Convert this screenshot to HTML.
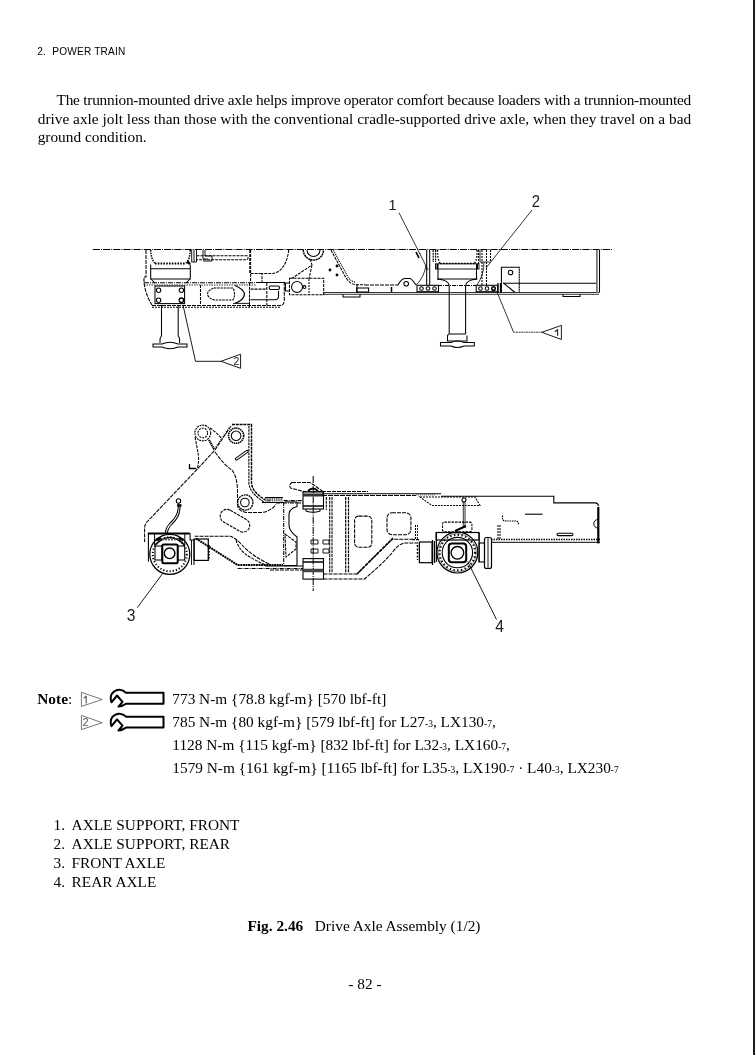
<!DOCTYPE html>
<html><head><meta charset="utf-8">
<style>
html,body{margin:0;padding:0;background:#fff;width:755px;height:1055px;overflow:hidden}
svg{position:absolute;left:0;top:0;will-change:transform}
.s{font-family:"Liberation Serif",serif;font-size:15.33px;fill:#000}
.h{font-family:"Liberation Sans",sans-serif;font-size:10.1px;fill:#000;letter-spacing:0.2px}
.sub{font-size:9.5px}
</style></head><body>
<svg width="755" height="1055" viewBox="0 0 755 1055">
<rect x="753" y="0" width="2" height="1055" fill="#1c1c1c"/>
<text class="h" x="37.3" y="54.8">2.</text><text class="h" x="52.3" y="54.8">POWER TRAIN</text>
<text class="s" x="56.5" y="105" textLength="634.7" lengthAdjust="spacing">The trunnion-mounted drive axle helps improve operator comfort because loaders with a trunnion-mounted</text>
<text class="s" x="37.7" y="123.8" textLength="653.5" lengthAdjust="spacing">drive axle jolt less than those with the conventional cradle-supported drive axle, when they travel on a bad</text>
<text class="s" x="37.7" y="142.3">ground condition.</text>

<text class="s" x="37.3" y="703.7"><tspan font-weight="bold">Note</tspan>:</text>

<g fill="none">
<path d="M81.4 692.3V706.4L102.3 699.5Z" stroke="#666" stroke-width="0.9"/>
<path d="M81.4 715.5V729.6L102.3 722.7Z" stroke="#666" stroke-width="0.9"/>
<path id="wr" d="M126 692.8H163.5V703.7H126Q122.5 706.2 118.5 706.6L122.5 701.8L117 695.5L111.5 702.3Q109.6 697 112.2 693.3Q115.5 689.6 119.5 689.8Q123.5 690 126 692.8Z" stroke="#000" stroke-width="2" stroke-linejoin="round"/>
<use href="#wr" y="23.9"/>
</g>
<g font-family="Liberation Sans, sans-serif" fill="#555">
</g><path d="M86.2 695.8V703.4M86.2 695.8Q85.5 697.6 83.8 698.2" fill="none" stroke="#555" stroke-width="1.1"/><g font-family="Liberation Sans, sans-serif" fill="#555">
<text x="82.6" y="726" font-size="11">2</text>
</g>
<text class="s" x="172.3" y="703.7">773 N-m {78.8 kgf-m} [570 lbf-ft]</text>
<text class="s" x="172.3" y="726.8">785 N-m {80 kgf-m} [579 lbf-ft] for L27<tspan class="sub">-3</tspan>, LX130<tspan class="sub">-7</tspan>,</text>
<text class="s" x="172.3" y="749.8">1128 N-m {115 kgf-m} [832 lbf-ft] for L32<tspan class="sub">-3</tspan>, LX160<tspan class="sub">-7</tspan>,</text>
<text class="s" x="172.3" y="772.8">1579 N-m {161 kgf-m} [1165 lbf-ft] for L35<tspan class="sub">-3</tspan>, LX190<tspan class="sub">-7</tspan> · L40<tspan class="sub">-3</tspan>, LX230<tspan class="sub">-7</tspan></text>

<text class="s" x="53.5" y="830.1">1.</text><text class="s" x="71.6" y="830.1">AXLE SUPPORT, FRONT</text>
<text class="s" x="53.5" y="849">2.</text><text class="s" x="71.6" y="849">AXLE SUPPORT, REAR</text>
<text class="s" x="53.5" y="868">3.</text><text class="s" x="71.6" y="868">FRONT AXLE</text>
<text class="s" x="53.5" y="886.9">4.</text><text class="s" x="71.6" y="886.9">REAR AXLE</text>

<text class="s" x="247.5" y="930.5"><tspan font-weight="bold">Fig. 2.46</tspan></text>
<text class="s" x="314.8" y="930.5">Drive Axle Assembly (1/2)</text>
<text class="s" x="348.3" y="989.1">- 82 -</text>

<g id="d1" fill="none" stroke="#000" stroke-width="1.05">
<!-- centerline -->
<path d="M92.8 249.5H612" stroke-dasharray="7 1.1 1 1.1" stroke-width="1.1"/>
<!-- front mount outer frame -->
<path d="M146 250V277H144V283Q146 296 152 305" stroke-dasharray="4 1"/>
<path d="M144 282.7H256" stroke-dasharray="5 1 1 1"/>
<path d="M152 305.5H280Q284.3 305.5 284.3 300V283" stroke-dasharray="4 1"/>
<path d="M152 307.3H281" stroke-dasharray="2 1"/>
<!-- mount box -->
<path d="M150.7 264.5V279H190.3V264.5"/>
<path d="M150.7 268.8H190.3"/>
<path d="M150.7 250Q151 259 155 263.5" stroke-width="1.5" stroke-dasharray="1.5 1"/>
<path d="M190.3 250Q190 259 186 263.5" stroke-width="1.5" stroke-dasharray="1.5 1"/><path d="M187 261.5L190 264" stroke-width="2.5"/>
<path d="M155 263.5H186" stroke-width="1.8" stroke-dasharray="1.6 1.2"/>
<path d="M151 279L155 283M190 279L186 283"/>
<!-- bolt plate -->
<rect x="155" y="286" width="29.6" height="17.6"/>
<circle cx="158.6" cy="290.2" r="2.2"/><circle cx="181.4" cy="290.2" r="2.2"/>
<circle cx="158.6" cy="300.2" r="2.2"/><circle cx="181.4" cy="300.2" r="2.2" stroke-width="1.3"/>
<!-- leg -->
<path d="M161.5 305V336Q160 337.5 160 339.5V343M178.2 305V336Q179.6 337.5 179.6 339.5V343"/>
<path d="M153 344H162Q170 340.5 178 344H187V347H178Q170 350.5 162 347H153Z"/>
<!-- leader 2 -->
<path d="M183 305L195.5 361.3H221M221 361.3L240.6 354.2V368.3Z" stroke-width="0.9"/>
<!-- slot in lower frame -->
<path d="M200.5 285V305" stroke-dasharray="3 1"/>
<path d="M144 285H256" stroke-dasharray="1.5 1" stroke-width="0.8"/>
<path d="M214 288H233Q236 294 233 300H214Q208 298 207.5 294Q208 290 214 288Z" stroke-dasharray="2.5 0.8"/>
<path d="M235 285.5Q243.5 289 244.5 294Q244 300 235 303.4" stroke-width="1.3"/>
<path d="M233 303.4H249" stroke-width="0.9"/>
<path d="M249.5 283V307" stroke-dasharray="3 0.8"/><path d="M266.8 283V305.5" stroke-dasharray="3 1"/>
<!-- small bracket right of mount -->
<path d="M191.7 250V262H196.5V250M194 250V262" stroke-width="0.9"/>
<path d="M196.5 255.7H247Q249.3 257.7 247 259.7H196.5" stroke-dasharray="3 1"/>
<path d="M203 250V259H208M205 250V256H212V261H203" stroke-width="0.9"/>
<path d="M249.8 250V273" stroke-dasharray="3 1"/>
<!-- middle lower box -->
<path d="M250.6 250V283" stroke-dasharray="3 1"/>
<path d="M288.7 250C287.5 262 282 273 272 273.5H262V282.7M250.6 273.5H262" stroke-dasharray="3 1"/>
<path d="M256 282.5H285"/>
<path d="M250.6 289.1H267" stroke-dasharray="3 1"/><path d="M250.6 299.8H275Q278.5 299.8 278.5 296V291"/>
<rect x="269.2" y="286" width="10.3" height="3.5" rx="1.5" stroke-width="1.1"/>
<path d="M289.5 283H285.5V291H289.5"/>
<!-- pivot circle & box -->
<path d="M303.3 250A10.1 10.1 0 0 0 323.5 250" stroke-dasharray="2 0.6" stroke-width="1.5"/>
<path d="M307 250A6.5 6.5 0 0 0 320 250"/>
<path d="M310 259L312 265L291 279M312 265L309 279" stroke-dasharray="3 1"/>
<rect x="289.5" y="278.2" width="34.2" height="16.6" stroke-dasharray="3 1"/>
<circle cx="297" cy="287" r="5.5"/><circle cx="304.5" cy="287" r="1.4"/>
<path d="M309 279V294.8" stroke-dasharray="2 1"/>
<!-- right diagonal -->
<path d="M331 250L345.5 277Q349.5 284.5 357 284.8H365" stroke-dasharray="3 1"/>
<path d="M333.5 250.5L348 277Q351 281.8 356 282.3" stroke-dasharray="1 1"/>
<circle cx="330" cy="270" r="0.9" fill="#222"/><circle cx="337" cy="266" r="0.9" fill="#222"/><circle cx="337" cy="275" r="0.9" fill="#222"/>
<path d="M357 284V293"/>
<!-- bottom frame -->
<path d="M323 292.5H599M323 294.3H599" stroke-width="0.8"/>
<path d="M343 294.3V297H360V294.3"/>
<!-- front edge region -->
<path d="M365 285H398" stroke-dasharray="4 1"/>
<rect x="356.6" y="288" width="12" height="4"/>
<path d="M391.5 287V292" stroke-width="1.5"/>
<path d="M398 285Q401 279 405 278.5H410Q412 279 416 285"/>
<circle cx="406.2" cy="283.7" r="2.3"/>
<!-- bolt block left -->
<rect x="417" y="285.3" width="21.5" height="6.4"/>
<circle cx="421.5" cy="288.5" r="1.8"/><circle cx="428" cy="288.5" r="1.8"/><circle cx="434.5" cy="288.5" r="1.8"/>
<!-- column left -->
<path d="M426.7 250V285.5M429.7 250V285.5"/><path d="M433.2 250V262M435.6 250V262" stroke-width="1.2" stroke-dasharray="2 0.8"/>
<path d="M419.5 253Q424 262 428 270" stroke-width="0.8"/>
<path d="M426 265Q424 278 416 285" stroke-width="0.8"/>
<path d="M416 252L419 258" stroke-width="1.6"/>
<!-- leader 1 -->
<path d="M399 212.8L420 254" stroke-width="0.8"/>
<!-- rear mount box -->
<path d="M438 269V279H476.5V269"/><rect x="435.5" y="263.8" width="43.5" height="5.2" stroke-width="0.9"/>
<path d="M437.5 264V269M477 264V269" stroke-width="2"/><path d="M438 285.5H476" stroke-dasharray="4 1 1 1"/>
<path d="M437.5 250Q437.5 259 440 263.5M477 250Q477.5 259 474.5 263.5" stroke-width="1.4" stroke-dasharray="1.5 1.5"/>
<path d="M440 263.5H474.5" stroke-width="1.6" stroke-dasharray="1.6 1.4"/>
<path d="M437 279Q449.2 280 449.2 286V334M477.5 279Q465.6 280 465.6 286V334"/>
<!-- rear leg foot -->
<path d="M449.2 334H465.6M447.5 335.5Q447.5 334.5 449 334.5M447.5 335.5V341H467V335.5"/>
<path d="M440.5 342.5H451Q457.5 339.5 464 342.5H474.3V346H464Q457.5 349 451 346H440.5Z"/>
<!-- right column -->
<path d="M478.6 250V264M482 250V285M486.5 250V285M490.5 250V262" stroke-dasharray="2 1"/>
<path d="M480 250V262H490.5" stroke-width="0.8"/>
<path d="M484 262Q484 275 477 285" stroke-width="0.8"/>
<!-- bolt block right -->
<rect x="476.2" y="285.3" width="21.5" height="6.4"/>
<circle cx="480.5" cy="288.5" r="1.8"/><circle cx="487" cy="288.5" r="1.8"/><circle cx="493.5" cy="288.5" r="1.8" stroke-width="1.5"/>
<path d="M498 283V292.5M500.5 283V292.5" stroke-width="1.3"/>
<!-- leader 2 top -->
<path d="M532 210L486 268" stroke-width="0.8"/>
<!-- bracket plate -->
<path d="M501.4 292.5V267.3H519.3V292.5" />
<path d="M519.3 268V292" stroke="#fff" stroke-width="0.6" stroke-dasharray="1 1.5"/>
<circle cx="510.5" cy="272.5" r="2.3"/>
<path d="M503.5 283L515 292.5"/>
<path d="M503 283.2H596.7"/>
<path d="M596.7 250V292.5M599.5 250V292.5" />
<path d="M597 293V250" stroke="#888" stroke-width="1.6"/>
<path d="M563 294.3V296.5H580V294.3"/>
<!-- leader 1 bottom -->
<path d="M497 292L513.5 332" stroke-width="0.8"/>
<path d="M513.5 332.2H542" stroke-width="0.75" stroke-dasharray="2 0.5"/>
<path d="M541.8 332.3L561.4 325.4V339.5Z" stroke-width="0.9"/>
</g>

<g id="d2" fill="none" stroke="#000" stroke-width="1.05">
<!-- bell crank top-left circle -->
<circle cx="202.8" cy="433" r="7.9" stroke-dasharray="2 0.8" stroke-width="1.1"/>
<circle cx="202.8" cy="433" r="4.8" stroke-dasharray="2 1"/>
<!-- top-right circle -->
<circle cx="236.1" cy="435.7" r="7.6" stroke-width="1.6" stroke-dasharray="1.5 0.6"/>
<circle cx="236.1" cy="435.7" r="4.8"/>
<!-- right dashed edge of front frame -->
<path d="M232 424.5H251.5V483Q252 492 266 500.5H270" stroke-width="1.4" stroke-dasharray="3 0.8"/>
<path d="M248.9 426V483Q249.5 493 264 502" stroke-width="1.1" stroke-dasharray="2.5 0.8"/>
<!-- bell crank outline -->
<path d="M195 437Q197 447 198.5 456Q199 465 196.5 470" stroke-dasharray="3 1"/>
<path d="M210 428Q216 432 221 437.8" stroke-dasharray="3 1"/>
<path d="M209 440L214 449" stroke-width="2.2" stroke-dasharray="1.2 0.6"/>
<path d="M231 426L215 450L196.5 470L146.5 522.5Q144.6 525 144.6 528V542" stroke-dasharray="4 1"/>
<path d="M229 428L213 451" stroke-dasharray="1 1"/>
<path d="M215 452Q224 465 232 470Q238 478 237.5 495V505Q238 511 246 512.5H262Q271 511 276 504.4" stroke-dasharray="4 1"/>
<path d="M236.5 459L247 451.5" stroke-width="3.2" stroke-linecap="round"/>
<path d="M236.5 459L247 451.5" stroke="#fff" stroke-width="1.2" stroke-linecap="round"/>
<path d="M189.5 464V468.5H196" stroke-width="1.3"/>
<!-- bottom pivot circle -->
<circle cx="245.3" cy="502.5" r="7.6" stroke-width="1.3" stroke-dasharray="2 0.6"/>
<circle cx="244.9" cy="502.5" r="4.3"/>
<!-- bracket at hinge -->
<path d="M265 499.5H283" stroke="#777" stroke-width="4" stroke-dasharray="1.5 0.7"/><path d="M262 502.5H284M265 497.5H283" stroke-width="1"/>
<!-- oval -->
<rect x="219" y="514" width="32" height="13.5" rx="6.7" transform="rotate(30 235 520.7)" stroke-dasharray="3 1"/>
<!-- hose -->
<circle cx="178.5" cy="501" r="2.2"/><path d="M177 505.5H181.5" stroke-width="2.2"/>
<path d="M178.3 503.5V507Q178 516 170 523Q165.5 528 165.5 533M180 504V507Q180 517 172 524Q167.5 529 167.5 533"/>
<!-- front axle housing 3 -->
<path d="M147.9 533.4H189.7" stroke-width="2"/>
<path d="M148.4 533V561.7M190.1 533V540H194V565"/>
<circle cx="169.8" cy="554.3" r="20" stroke-width="1.3"/>
<circle cx="169.8" cy="554.3" r="17" stroke-width="2" stroke-dasharray="1.2 2"/>
<path d="M155 545Q169.8 530 184.5 545" stroke-width="1.5"/>
<rect x="162.3" y="544.4" width="15.4" height="18.8" rx="1.5" stroke-width="2"/>
<circle cx="169.6" cy="553.3" r="5.3" stroke-width="1.4"/>
<rect x="155" y="546" width="7" height="14"/>
<rect x="177.7" y="546" width="7" height="14"/>
<path d="M154.6 533V545M184.8 533V545" stroke-width="1"/><path d="M156 540L161 538M178.5 538L183.5 540" stroke-width="2.5"/><path d="M162 539.5H177.5" stroke="#666" stroke-width="2" stroke-dasharray="2 1"/>
<rect x="194.1" y="539" width="14.2" height="21.4" stroke-width="1.2"/><path d="M191.5 540V565" stroke-width="0.9"/>
<path d="M208.8 545V560" stroke-width="2" stroke-dasharray="1.5 1.5"/>
<!-- leader 3 -->
<path d="M163 573L137.3 607.6" stroke-width="0.9"/>
<!-- lower arm -->
<path d="M194.6 536.2H230.3Q236 538 242 545Q252 556 270 564.5" stroke-dasharray="4 1"/>
<path d="M236 540Q240 552 250 557Q258 562 266 565" stroke-dasharray="3 1"/>
<path d="M196 538.5L237.6 565H283" stroke-width="2" stroke-dasharray="2 0.6"/>
<path d="M237.6 568.5H303" stroke-width="1" stroke-dasharray="4 1 1 1"/>
<path d="M265 566H303" stroke-width="1.2"/>
<path d="M270 570H303" stroke-dasharray="4 1"/>
<!-- front frame end / bracket -->
<path d="M283.7 500.6H303M276 503H303" stroke-dasharray="4 1 1 1"/>
<path d="M283.7 502V565.5" stroke-dasharray="4 1 1 1"/>
<path d="M285 502H297V506.5Q290 508 289 514V525Q289 531 297 537V565.5H284" stroke-width="1.1"/>
<path d="M285 534L296 542V549L286 557Z" stroke-dasharray="3 1"/>
<!-- hinge centerline -->
<path d="M313.2 476V591" stroke-dasharray="7 1.1 1 1.1"/>
<!-- flag -->
<path d="M292 482.5H310L323 491.5H304L290.5 488Q288.5 485 292 482.5Z" stroke-dasharray="4 1"/>
<!-- upper hinge -->
<rect x="303" y="492" width="20.5" height="17" stroke-width="1.1"/>
<path d="M303 495H323.5" stroke-width="3" stroke="#333"/>
<path d="M303 506H323.5" stroke-width="1.5"/>
<path d="M306 509V511Q313 513.5 320 511V509"/>
<path d="M308 491Q313 486 318 491" stroke-width="2"/>
<!-- lower hinge -->
<rect x="303" y="558.6" width="20.5" height="20.5" stroke-width="1.1"/>
<path d="M303 562H323.5" stroke-width="1.5"/>
<path d="M303 570.5H323.5" stroke-width="3.5" stroke="#444"/>
<!-- small blocks -->
<path d="M311 540H318V544H311ZM311 549H318V553H311ZM323 540H329V544H323ZM323 549H329V553H323Z" stroke-width="0.9"/>
<!-- rear frame -->
<path d="M322 493.8H441" stroke-width="1.1"/>
<path d="M322 491.5H368" stroke-width="1" stroke-dasharray="4 1"/>
<path d="M322 495.5H416" stroke-width="1.1" stroke-dasharray="5 1"/><path d="M416 494.8H436" stroke="#777" stroke-width="1.6" stroke-dasharray="1.2 0.8"/>
<path d="M326.3 497V510M329.7 497V573M332 497V573" stroke-dasharray="3 0.8"/>
<path d="M345.7 497V573M348.5 497V573" stroke-width="1.2" stroke-dasharray="3 0.8"/>
<path d="M323.5 574H357L392.3 539.3H415" stroke-dasharray="4 1"/>
<path d="M393 538L357 574" stroke-width="1.6" stroke-dasharray="3 1"/>
<path d="M323.5 579H364.5Q380 566 392 553Q398 544 405 543H419" stroke-dasharray="4 1"/>
<rect x="354.6" y="516.1" width="17.2" height="31.2" rx="4" stroke-dasharray="4 1"/>
<rect x="387" y="512.8" width="23.9" height="21.9" rx="5" stroke-dasharray="4 1"/>
<path d="M415.5 525V540" stroke-dasharray="2 1"/>
<path d="M415.5 525V540M417.5 525V540" stroke-width="0.8" stroke-dasharray="2 1"/>
<!-- parallelogram -->
<path d="M420 497H475L480 505.5H432Z" stroke-dasharray="2 1"/>
<!-- rear axle 4 -->
<rect x="436.1" y="532.5" width="42.9" height="7.5" stroke-width="1.2"/>
<rect x="442.5" y="522.1" width="29.4" height="9.6" rx="2" stroke-dasharray="2.5 1"/>
<circle cx="464" cy="500" r="2"/>
<path d="M463.3 502V528M465 502V528" stroke-width="0.8"/>
<path d="M455 531L466 526" stroke-width="2"/>
<circle cx="457.4" cy="552.6" r="20.4" stroke-width="1.2"/>
<circle cx="457.4" cy="552.6" r="17.8" stroke-width="2.2" stroke-dasharray="1.4 2.4"/><circle cx="457.4" cy="552.6" r="18.9" stroke-width="0.6" stroke="#444"/>
<circle cx="457.4" cy="552.6" r="15.2" stroke-width="1.1"/>
<rect x="448.8" y="543.6" width="17.4" height="18.6" rx="3" stroke-width="2"/>
<circle cx="457.4" cy="552.8" r="6.3" stroke-width="1.4"/>
<path d="M436.4 533V562M479.2 533V562" stroke-width="1.1"/>
<!-- hubs -->
<rect x="419.4" y="542" width="12.7" height="20.7" stroke-width="1.2"/>
<path d="M432.5 540V565M434.5 541V563" stroke-width="1.3"/>
<path d="M417.5 545V560" stroke-width="1.5" stroke-dasharray="2 1.5"/>
<rect x="479" y="543" width="5.5" height="19" stroke-width="1.1"/>
<rect x="484.5" y="537.5" width="7" height="31" rx="2" stroke-width="1.2"/><path d="M488 538V568" stroke-width="0.9"/>
<!-- frame lines near axle 4 -->
<path d="M412 539.6H420" stroke-dasharray="3 1"/>
<path d="M491 539.6H600" stroke-dasharray="1.5 1" stroke-width="1.5"/>
<path d="M491 542.3H600" stroke-width="1"/>
<path d="M498 525V540M500 525V540" stroke-dasharray="2 1"/>
<path d="M502.5 515.5V519Q503 521 506 521H516Q518.5 521.5 518.5 524V525" stroke-width="1.2" stroke-dasharray="1.5 0.8"/>
<!-- leader 4 -->
<path d="M467.7 561.6L496.5 619.5" stroke-width="0.9"/>
<!-- rear frame tail -->
<path d="M441 496.2H553.8V502.9H595.5Q598 503 598.5 506" stroke-width="1.1"/>
<path d="M598.3 507V543.4" stroke-width="2.2"/>
<path d="M598 519.5A4.2 4.2 0 0 0 598 528" stroke-width="1"/>
<path d="M525 514.2H542.5" stroke-width="1.1"/>
<rect x="557" y="533.2" width="16" height="2.4" rx="1.2"/>
</g>
<g font-family="Liberation Sans, sans-serif" fill="#222">
<text x="388.5" y="210" font-size="14.5">1</text>
<text x="531.8" y="207.3" font-size="16" transform="translate(531.8 207.3) scale(0.93 1) translate(-531.8 -207.3)">2</text>
</g><path d="M557.6 329.2V335.8M557.6 329.2Q556.8 331 554.8 331.6" fill="none" stroke="#222" stroke-width="1.1"/><g font-family="Liberation Sans, sans-serif" fill="#222">
<text x="233.5" y="364.6" font-size="10.5">2</text>
<text x="126.8" y="620.8" font-size="16.8" transform="translate(126.8 620.8) scale(0.93 1) translate(-126.8 -620.8)">3</text>
<text x="495.2" y="631.9" font-size="16.8" transform="translate(495.2 631.9) scale(0.93 1) translate(-495.2 -631.9)">4</text>
</g>
</svg>
</body></html>
